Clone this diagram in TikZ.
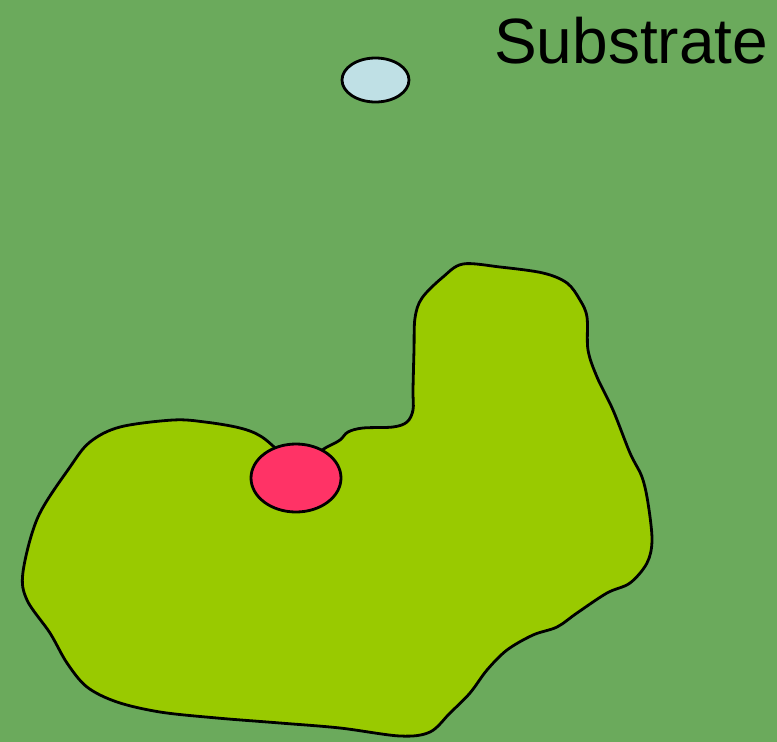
\documentclass[tikz,border=0pt]{standalone}
\usepackage{fontspec}
\setmainfont{Liberation Sans}
\usetikzlibrary{shapes.geometric}
\definecolor{bgGreen}{HTML}{6BAA5C}
\definecolor{blobLime}{HTML}{99CA00}
\definecolor{siteRed}{HTML}{FF3366}
\definecolor{subBlue}{HTML}{BFE0E5}

\begin{document}
\begin{tikzpicture}[x=1pt,y=-1pt,
    outline/.style={draw=black,line width=2.8pt},
    blob/.style={outline,fill=blobLime,line join=round},
    site/.style={ellipse,outline,fill=siteRed,inner sep=0pt,
                 minimum width=90pt,minimum height=68pt},
    molecule/.style={ellipse,outline,fill=subBlue,inner sep=0pt,
                 minimum width=67pt,minimum height=44pt}]
  \fill[bgGreen] (0,0) rectangle (777,742);
  \useasboundingbox (0,0) rectangle (777,742);
  % enzyme body
  \draw[blob] plot[smooth cycle,tension=0.55] coordinates {
    (262,437) (240,428) (205,422) (173,420) (120,427) (90,442) (70,467)
    (38,517) (23,572) (27,600) (50,633) (67,663) (87,687) (117,702)
    (160,712) (217,718) (280,723) (340,728) (400,736) (430,732) (450,713)
    (470,693) (487,670) (507,650) (533,635) (557,627) (577,613) (607,593)
    (630,583) (647,563) (652,540) (648,503) (642,477) (630,453) (613,410)
    (597,377) (588,350) (587,317) (580,300) (567,283) (543,273) (500,267)
    (463,264) (443,277) (422,298) (415,318) (414,350) (413,390) (413,410)
    (407,422) (393,427) (363,428) (348,432) (340,440) (327,447) (296,462)};
  \node[site] (active) at (296,478) {};
  \node[molecule] (substrate) at (375.5,80) {};
  \node[anchor=base west,inner sep=0pt,font=\fontsize{64}{76}\selectfont]
    (label) at (494,63) {Substrate};
\end{tikzpicture}
\end{document}
